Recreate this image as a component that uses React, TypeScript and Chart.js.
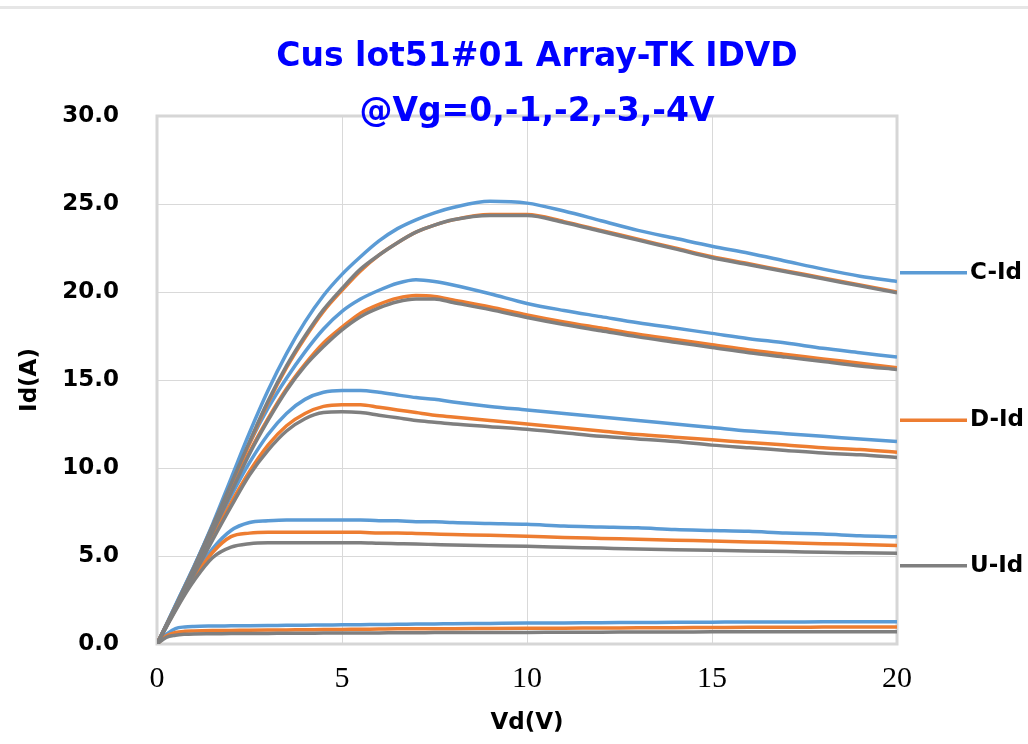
import { useEffect, useRef } from "react";
import { Chart, registerables } from "chart.js";

Chart.register(...registerables);

// Drain voltage grid (V)
const vdValues = [0, 0.25, 0.5, 0.75, 1, 1.5, 2, 2.5, 3, 3.5, 4, 4.5, 5, 5.5, 6, 6.5, 7, 7.5, 8, 9, 10, 11, 12, 13, 14, 15, 16, 17, 18, 19, 20];

// Vg = 0 V
const cIdVg0 = [0, 1.1, 2.2, 3.3, 4.4, 6.8, 9.4, 12.0, 14.4, 16.5, 18.3, 19.8, 21.0, 22.0, 22.9, 23.6, 24.1, 24.5, 24.8, 25.15, 25.05, 24.6, 24.05, 23.5, 23.05, 22.6, 22.2, 21.75, 21.3, 20.9, 20.6];
const dIdVg0 = [0, 1.05, 2.1, 3.2, 4.3, 6.6, 9.0, 11.4, 13.7, 15.7, 17.4, 18.9, 20.1, 21.2, 22.1, 22.8, 23.4, 23.8, 24.1, 24.4, 24.4, 24.0, 23.5, 23.0, 22.5, 22.0, 21.6, 21.2, 20.8, 20.4, 20.0];
const uIdVg0 = [0, 1.07, 2.15, 3.25, 4.35, 6.7, 9.1, 11.5, 13.8, 15.8, 17.5, 19.0, 20.2, 21.3, 22.1, 22.8, 23.4, 23.8, 24.1, 24.35, 24.35, 23.95, 23.45, 22.95, 22.45, 21.95, 21.55, 21.15, 20.75, 20.35, 19.95];

// Vg = -1 V
const cIdVg1 = [0, 1.1, 2.2, 3.3, 4.4, 6.7, 9.1, 11.4, 13.4, 15.1, 16.6, 17.9, 18.9, 19.6, 20.1, 20.5, 20.7, 20.6, 20.4, 19.9, 19.35, 18.95, 18.6, 18.25, 17.95, 17.65, 17.35, 17.1, 16.8, 16.55, 16.3];
const dIdVg1 = [0, 1.05, 2.1, 3.15, 4.2, 6.4, 8.7, 10.9, 12.8, 14.5, 15.9, 17.1, 18.0, 18.8, 19.3, 19.65, 19.8, 19.75, 19.55, 19.15, 18.7, 18.3, 17.95, 17.6, 17.3, 17.0, 16.7, 16.45, 16.2, 15.95, 15.7];
const uIdVg1 = [0, 1.05, 2.1, 3.15, 4.2, 6.35, 8.6, 10.8, 12.7, 14.4, 15.8, 16.9, 17.85, 18.6, 19.1, 19.45, 19.6, 19.6, 19.4, 19.0, 18.55, 18.15, 17.8, 17.45, 17.15, 16.85, 16.55, 16.3, 16.05, 15.8, 15.6];

// Vg = -2 V
const cIdVg2 = [0, 1.05, 2.1, 3.15, 4.2, 6.3, 8.4, 10.3, 11.9, 13.1, 13.9, 14.3, 14.4, 14.4, 14.3, 14.15, 14.0, 13.9, 13.75, 13.5, 13.3, 13.1, 12.9, 12.7, 12.5, 12.3, 12.1, 11.95, 11.8, 11.65, 11.5];
const dIdVg2 = [0, 1.0, 2.0, 3.0, 4.0, 6.0, 8.0, 9.8, 11.3, 12.4, 13.1, 13.5, 13.6, 13.6, 13.45, 13.3, 13.15, 13.0, 12.9, 12.7, 12.5, 12.3, 12.1, 11.9, 11.75, 11.6, 11.45, 11.3, 11.15, 11.05, 10.9];
const uIdVg2 = [0, 1.0, 2.0, 3.0, 3.95, 5.9, 7.8, 9.6, 11.0, 12.1, 12.8, 13.15, 13.2, 13.15, 13.0, 12.85, 12.7, 12.6, 12.5, 12.35, 12.2, 12.0, 11.8, 11.65, 11.5, 11.3, 11.15, 11.0, 10.85, 10.75, 10.6];

// Vg = -3 V
const cIdVg3 = [0, 1.0, 2.0, 2.95, 3.85, 5.4, 6.45, 6.9, 7.0, 7.05, 7.05, 7.05, 7.05, 7.05, 7.0, 7.0, 6.95, 6.95, 6.9, 6.85, 6.8, 6.7, 6.65, 6.6, 6.5, 6.45, 6.4, 6.3, 6.25, 6.15, 6.1];
const dIdVg3 = [0, 1.0, 1.95, 2.9, 3.75, 5.2, 6.1, 6.3, 6.35, 6.35, 6.35, 6.35, 6.35, 6.35, 6.3, 6.3, 6.28, 6.25, 6.22, 6.18, 6.12, 6.05, 6.0, 5.95, 5.9, 5.85, 5.8, 5.75, 5.7, 5.65, 5.6];
const uIdVg3 = [0, 0.95, 1.9, 2.8, 3.6, 4.9, 5.5, 5.7, 5.75, 5.75, 5.75, 5.75, 5.75, 5.75, 5.72, 5.7, 5.68, 5.65, 5.62, 5.58, 5.55, 5.5, 5.45, 5.4, 5.36, 5.32, 5.28, 5.25, 5.21, 5.18, 5.15];

// Vg = -4 V
const cIdVg4 = [0, 0.55, 0.88, 0.97, 1.0, 1.02, 1.03, 1.04, 1.05, 1.06, 1.07, 1.08, 1.09, 1.1, 1.11, 1.12, 1.13, 1.14, 1.15, 1.17, 1.19, 1.2, 1.21, 1.22, 1.23, 1.24, 1.25, 1.25, 1.26, 1.26, 1.27];
const dIdVg4 = [0, 0.45, 0.65, 0.72, 0.74, 0.76, 0.77, 0.78, 0.79, 0.8, 0.81, 0.82, 0.83, 0.84, 0.85, 0.86, 0.86, 0.87, 0.87, 0.88, 0.89, 0.9, 0.91, 0.92, 0.93, 0.94, 0.95, 0.95, 0.96, 0.97, 0.97];
const uIdVg4 = [0, 0.38, 0.5, 0.55, 0.57, 0.58, 0.59, 0.6, 0.6, 0.61, 0.61, 0.62, 0.62, 0.63, 0.63, 0.64, 0.64, 0.65, 0.65, 0.66, 0.66, 0.67, 0.67, 0.68, 0.68, 0.69, 0.69, 0.7, 0.7, 0.7, 0.7];

const seriesNames = ["C-Id", "D-Id", "U-Id"];
const seriesColors = ["#5B9BD5", "#ED7D31", "#7F7F7F"];
const cSeries = [cIdVg0, cIdVg1, cIdVg2, cIdVg3, cIdVg4];
const dSeries = [dIdVg0, dIdVg1, dIdVg2, dIdVg3, dIdVg4];
const uSeries = [uIdVg0, uIdVg1, uIdVg2, uIdVg3, uIdVg4];
const vgLabels = ["0", "-1", "-2", "-3", "-4"];

const titleLines = ["Cus lot51#01 Array-TK IDVD", "@Vg=0,-1,-2,-3,-4V"];
const xTicks = [0, 5, 10, 15, 20];
const yTicks = [0, 5, 10, 15, 20, 25, 30];

const SANS = "'DejaVu Sans', sans-serif";

export default function App() {
  const canvasRef = useRef<HTMLCanvasElement | null>(null);

  useEffect(() => {
    const canvas = canvasRef.current;
    if (!canvas) return;

    const groups = [cSeries, dSeries, uSeries];
    const datasets: any[] = [];
    groups.forEach((group, si) => {
      group.forEach((vals, fi) => {
        datasets.push({
          label: `${seriesNames[si]} Vg=${vgLabels[fi]}`,
          data: vdValues.map((x, i) => ({ x, y: vals[i] })),
          borderColor: seriesColors[si],
          backgroundColor: seriesColors[si],
          borderWidth: 3.5,
          pointRadius: 0,
          fill: false,
          cubicInterpolationMode: "monotone",
          order: 2 - si,
        });
      });
    });

    const decor = {
      id: "decor",
      beforeDatasetsDraw(chart: any) {
        const { ctx, chartArea: a } = chart;
        ctx.save();
        ctx.strokeStyle = "#d6d6d6";
        ctx.lineWidth = 3;
        ctx.strokeRect(a.left, a.top, a.right - a.left, a.bottom - a.top);
        ctx.restore();
      },
      afterDraw(chart: any) {
        const { ctx, chartArea: a } = chart;
        ctx.save();
        // title
        ctx.fillStyle = "#0000FF";
        ctx.font = `bold 33px ${SANS}`;
        ctx.textAlign = "center";
        ctx.textBaseline = "alphabetic";
        const cx = (a.left + a.right) / 2 + 10;
        ctx.fillText(titleLines[0], cx, 66);
        ctx.fillText(titleLines[1], cx, 121);
        // legend
        const fracs = [0.297, 0.576, 0.852];
        const h = a.bottom - a.top;
        seriesNames.forEach((name, i) => {
          const y = a.top + fracs[i] * h;
          ctx.strokeStyle = seriesColors[i];
          ctx.lineWidth = 3.5;
          ctx.beginPath();
          ctx.moveTo(a.right + 3, y);
          ctx.lineTo(a.right + 70, y);
          ctx.stroke();
          ctx.fillStyle = "#000";
          ctx.font = `bold 23px ${SANS}`;
          ctx.textAlign = "left";
          ctx.textBaseline = "middle";
          ctx.fillText(name, a.right + 73, y);
        });
        ctx.restore();
      },
    };

    const chart = new Chart(canvas, {
      type: "line",
      data: { datasets },
      plugins: [decor],
      options: {
        animation: false,
        responsive: false,
        devicePixelRatio: 1,
        layout: { padding: { left: 16, right: 131, top: 116, bottom: 7 } },
        plugins: { legend: { display: false }, title: { display: false }, tooltip: { enabled: false } },
        scales: {
          x: {
            type: "linear",
            min: 0,
            max: 20,
            afterBuildTicks: (scale: any) => {
              scale.ticks = xTicks.map((v) => ({ value: v }));
            },
            afterFit: (scale: any) => {
              scale.height = 744 - 7 - 644;
            },
            ticks: {
              color: "#000",
              font: { family: "'Liberation Serif', serif", size: 30 },
              padding: 17,
              maxRotation: 0,
            },
            grid: { color: "#d9d9d9", lineWidth: 1, drawTicks: false },
            border: { display: false },
            title: {
              display: true,
              text: "Vd(V)",
              color: "#000",
              font: { family: SANS, size: 23, weight: "bold" },
              padding: { top: 0, bottom: 0 },
            },
          },
          y: {
            type: "linear",
            min: 0,
            max: 30,
            afterBuildTicks: (scale: any) => {
              scale.ticks = yTicks.map((v) => ({ value: v }));
            },
            afterFit: (scale: any) => {
              scale.width = 157 - 16;
            },
            ticks: {
              color: "#000",
              font: { family: SANS, size: 23, weight: "bold" },
              padding: 38,
              callback: (v: any) => Number(v).toFixed(1),
            },
            grid: { color: "#d9d9d9", lineWidth: 1, drawTicks: false },
            border: { display: false },
            title: {
              display: true,
              text: "Id(A)",
              color: "#000",
              font: { family: SANS, size: 23, weight: "bold" },
              padding: { top: 0, bottom: 0 },
            },
          },
        },
      },
    });

    return () => chart.destroy();
  }, []);

  return (
    <div style={{ position: "fixed", left: 0, top: 0, width: 1028, height: 744, background: "#fff" }}>
      <div style={{ position: "absolute", left: 0, top: 6, width: 1028, height: 3, background: "#e6e6e6" }} />
      <canvas ref={canvasRef} width={1028} height={744} style={{ position: "absolute", left: 0, top: 0 }} />
    </div>
  );
}
